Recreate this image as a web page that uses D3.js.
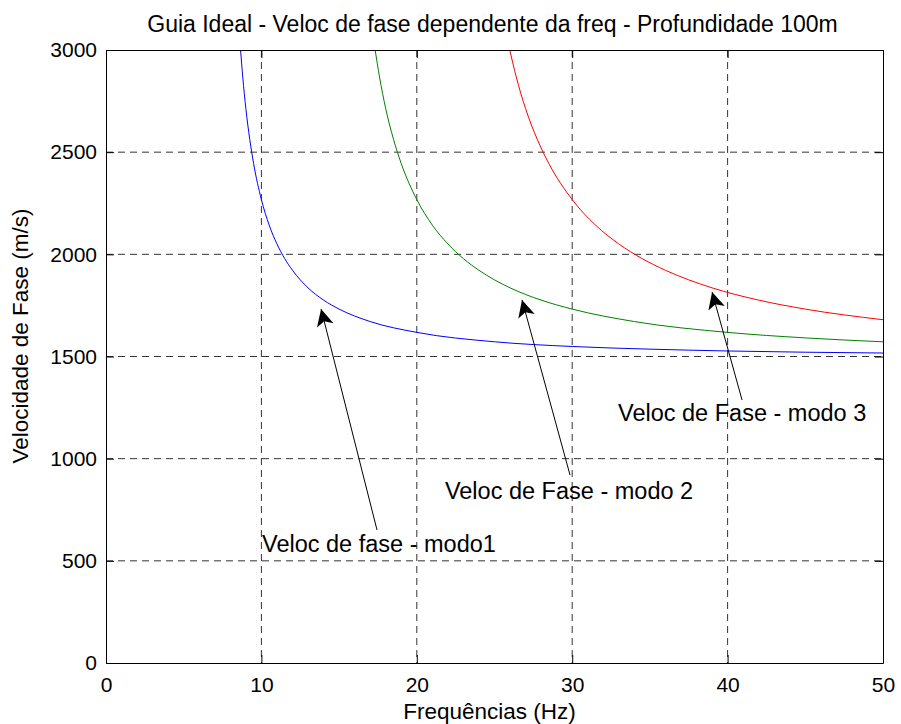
<!DOCTYPE html>
<html>
<head>
<meta charset="utf-8">
<script src="https://cdn.jsdelivr.net/npm/d3@7"></script>
<style>
  html, body { margin: 0; padding: 0; background: #ffffff; }
  svg { display: block; }
  text { font-family: "Liberation Sans", Arial, Helvetica, sans-serif; fill: #000; }
</style>
</head>
<body>
<svg id="chart" width="901" height="724"></svg>
<script>
// ---- data ----
const xTicks = [0, 10, 20, 30, 40, 50];
const yTicks = [0, 500, 1000, 1500, 2000, 2500, 3000];

const mode1Freq = [8.66, 8.8, 9, 9.25, 9.5, 10, 10.5, 11, 11.5, 12, 13, 14, 15, 17, 20, 25, 30, 35, 40, 45, 50];
const mode1Vel  = [3000, 2868, 2713, 2563, 2444, 2268, 2143, 2051, 1979, 1922, 1836, 1776, 1732, 1671, 1618, 1572, 1549, 1536, 1527, 1521, 1517];

const mode2Freq = [17.32, 17.6, 18, 18.5, 19, 20, 21, 22, 23, 24, 26, 28, 30, 34, 40, 45, 50];
const mode2Vel  = [3000, 2868, 2713, 2563, 2444, 2268, 2143, 2051, 1979, 1922, 1836, 1776, 1732, 1671, 1618, 1591, 1572];

const mode3Freq = [25.98, 26.4, 27, 27.75, 28.5, 30, 31.5, 33, 34.5, 36, 39, 42, 45, 50];
const mode3Vel  = [3000, 2868, 2713, 2563, 2444, 2268, 2143, 2051, 1979, 1922, 1836, 1776, 1732, 1680];

const seriesColors = ["#0000ff", "#008000", "#ff0000"];

const annotationTexts = ["Veloc de fase - modo1", "Veloc de Fase - modo 2", "Veloc de Fase - modo 3"];
const annotationTextX = [10.04, 21.81, 32.95];
const annotationTextY = [543, 803, 1185];
const arrowTailX = [17.44, 29.86, 40.93];
const arrowTailY = [651, 920, 1287];
const arrowTipX  = [13.84, 26.77, 39.0];
const arrowTipY  = [1733, 1777, 1816];

const titleText = "Guia Ideal - Veloc de fase dependente da freq - Profundidade 100m";
const xLabel = "Frequências (Hz)";
const yLabel = "Velocidade de Fase (m/s)";

// ---- layout ----
const pLeft = 106, pRight = 883, pTop = 50, pBottom = 663;
const svg = d3.select("#chart");

const x = d3.scaleLinear().domain([0, 50]).range([pLeft, pRight]);
const y = d3.scaleLinear().domain([0, 3000]).range([pBottom, pTop]);

// grid
const grid = svg.append("g");
grid.selectAll("line.gx").data(xTicks.slice(1, -1)).enter().append("line")
  .attr("x1", d => x(d)).attr("x2", d => x(d))
  .attr("y1", pTop).attr("y2", pBottom)
  .attr("stroke", "#333").attr("stroke-width", 1)
  .attr("stroke-dasharray", "7,5");
grid.selectAll("line.gy").data(yTicks.slice(1, -1)).enter().append("line")
  .attr("x1", pLeft).attr("x2", pRight)
  .attr("y1", d => y(d)).attr("y2", d => y(d))
  .attr("stroke", "#333").attr("stroke-width", 1)
  .attr("stroke-dasharray", "7,5");

// curves
svg.append("clipPath").attr("id", "clip").append("rect")
  .attr("x", pLeft).attr("y", pTop).attr("width", pRight - pLeft).attr("height", pBottom - pTop);

const line = d3.line().x(d => x(d[0])).y(d => y(d[1])).curve(d3.curveMonotoneX);
const series = [
  d3.zip(mode1Freq, mode1Vel),
  d3.zip(mode2Freq, mode2Vel),
  d3.zip(mode3Freq, mode3Vel)
];
svg.append("g").attr("clip-path", "url(#clip)")
  .selectAll("path").data(series).enter().append("path")
  .attr("d", d => line(d))
  .attr("fill", "none")
  .attr("stroke", (d, i) => seriesColors[i])
  .attr("stroke-width", 1);

// axes (MATLAB style: ticks inward on all four sides)
const fontSize = 21;
const fmt = d3.format("d");
const axB = d3.axisBottom(x).tickValues(xTicks).tickFormat(fmt).tickSizeInner(-8).tickSizeOuter(0).tickPadding(14);
const axL = d3.axisLeft(y).tickValues(yTicks).tickFormat(fmt).tickSizeInner(-8).tickSizeOuter(0).tickPadding(9);
const axT = d3.axisTop(x).tickValues(xTicks).tickSizeInner(-8).tickSizeOuter(0).tickFormat("");
const axR = d3.axisRight(y).tickValues(yTicks).tickSizeInner(-8).tickSizeOuter(0).tickFormat("");

function style(g) {
  g.attr("font-family", null).attr("font-size", null);
  g.selectAll("path.domain").attr("stroke", "#000").attr("stroke-width", 1);
  g.selectAll(".tick line").attr("stroke", "#000").attr("stroke-width", 1);
  g.selectAll(".tick text").attr("font-size", fontSize).attr("fill", "#000");
}
svg.append("g").attr("transform", `translate(0,${pBottom})`).call(axB).call(style);
svg.append("g").attr("transform", `translate(${pLeft},0)`).call(axL).call(style);
svg.append("g").attr("transform", `translate(0,${pTop})`).call(axT).call(style);
svg.append("g").attr("transform", `translate(${pRight},0)`).call(axR).call(style);

// title and labels
svg.append("text").attr("x", (pLeft + pRight) / 2 - 2).attr("y", 32)
  .attr("text-anchor", "middle").attr("font-size", 23).text(titleText);
svg.append("text").attr("x", (pLeft + pRight) / 2 - 5).attr("y", 719)
  .attr("text-anchor", "middle").attr("font-size", 22.5).text(xLabel);
svg.append("text").attr("transform", `translate(28,336) rotate(-90)`)
  .attr("text-anchor", "middle").attr("font-size", 22.5).text(yLabel);

// annotations
const defs = svg.append("defs");
defs.append("marker").attr("id", "arrowhead")
  .attr("viewBox", "0 0 10 10").attr("refX", 10).attr("refY", 5)
  .attr("markerUnits", "userSpaceOnUse")
  .attr("markerWidth", 24).attr("markerHeight", 17)
  .attr("orient", "auto")
  .append("path").attr("d", "M0,0 L10,5 L0,10 L2.5,5 Z").attr("fill", "#000");

const ann = svg.append("g");
annotationTexts.forEach((t, i) => {
  ann.append("line")
    .attr("x1", x(arrowTailX[i])).attr("y1", y(arrowTailY[i]))
    .attr("x2", x(arrowTipX[i])).attr("y2", y(arrowTipY[i]))
    .attr("stroke", "#000").attr("stroke-width", 1)
    .attr("marker-end", "url(#arrowhead)");
  ann.append("text")
    .attr("x", x(annotationTextX[i])).attr("y", y(annotationTextY[i]))
    .attr("font-size", 23.5).text(t);
});
</script>
</body>
</html>
